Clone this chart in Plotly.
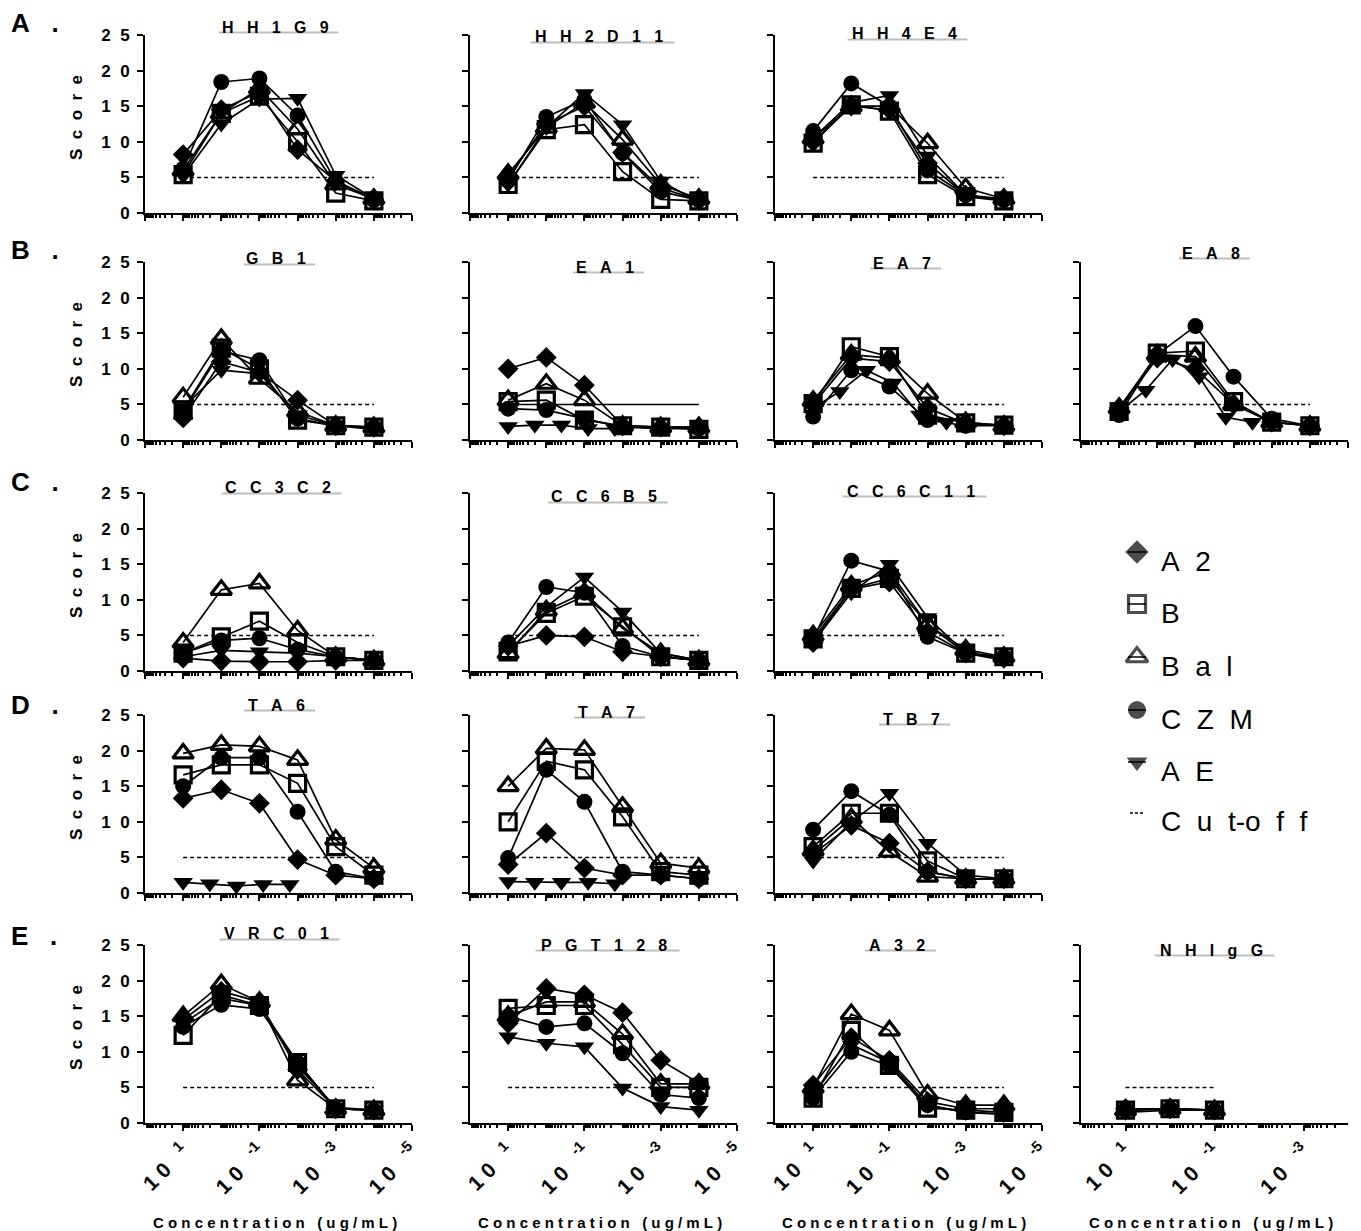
import plotly.graph_objects as go

W, H = 1361, 1231
PAGE_OFFSET = 8  # browser default body margin, compensated so pixel positions land where intended
FONT = "Arial, Liberation Sans, sans-serif"
NB = "\u00a0"

# ---------------- data ----------------
SERIES = ["A2", "B", "Bal", "CZM", "AE"]
CONC = [10, 1, 0.1, 0.01, 0.001, 0.0001]          # ug/mL, 10-fold dilutions
CONC_5FOLD = [10, 2, 0.4, 0.08, 0.016, 0.0032]    # 5-fold dilutions (AE in some panels)
CUTOFF = 5

# each panel: values for A2, B, Bal, CZM, AE
HH1G9 = [[8.2, 14.5, 17.0, 8.9, 4.5, 2.0],
         [5.4, 14.0, 16.4, 10.0, 2.8, 1.7],
         [6.0, 14.0, 17.5, 11.8, 4.0, 2.0],
         [6.2, 18.4, 18.9, 13.7, 4.5, 1.8],
         [5.2, 12.5, 16.0, 16.1, 5.3, 2.0]]
HH2D11 = [[5.0, 12.5, 15.0, 8.5, 3.5, 1.8],
          [4.0, 11.7, 12.4, 5.8, 1.9, 1.7],
          [5.5, 12.0, 15.5, 10.3, 4.0, 2.0],
          [4.5, 13.5, 15.9, 8.4, 3.0, 1.8],
          [4.0, 12.0, 16.8, 12.4, 4.5, 1.5]]
HH4E4 = [[10.0, 15.0, 14.5, 7.0, 2.5, 2.0],
         [9.8, 15.2, 14.3, 5.4, 2.3, 1.7],
         [10.5, 15.0, 15.0, 9.8, 3.5, 2.0],
         [11.5, 18.2, 15.0, 6.0, 2.5, 1.8],
         [10.5, 15.5, 16.5, 8.0, 2.5, 1.8]]
GB1 = [[3.1, 11.0, 9.5, 5.6, 2.0, 1.8],
       [4.2, 12.9, 10.0, 2.8, 2.0, 1.8],
       [6.0, 14.2, 8.6, 4.0, 2.0, 1.8],
       [4.0, 12.5, 11.2, 3.0, 2.0, 1.8],
       [4.5, 9.8, 9.3, 3.5, 2.0, 1.5]]
EA1 = [[10.0, 11.6, 7.7, 2.0, 1.8, 1.8],
       [5.4, 5.6, 2.8, 2.0, 1.8, 1.5],
       [5.6, 7.9, 5.6, 2.0, 1.8, 1.8],
       [4.4, 4.2, 3.0, 1.8, 1.6, 1.6],
       [1.9, 2.1, 2.1, 1.6, 1.6]]
EA7 = [[5.0, 11.5, 11.0, 4.5, 2.3, 2.0],
       [5.1, 13.1, 11.7, 3.5, 2.4, 2.1],
       [5.5, 12.0, 11.5, 6.5, 2.5, 2.0],
       [3.3, 9.8, 7.5, 2.8, 2.0, 2.0],
       [4.5, 6.8, 9.8, 8.0, 3.5, 2.5]]
EA8 = [[4.5, 11.5, 10.0, 5.0, 2.5, 2.0],
       [4.0, 12.2, 12.5, 5.4, 2.5, 2.0],
       [4.5, 12.0, 11.7, 5.0, 2.5, 2.0],
       [3.5, 12.0, 16.0, 8.9, 3.0, 2.0],
       [4.0, 7.0, 11.3, 8.9, 3.2, 2.5]]
CC3C2 = [[1.8, 1.4, 1.3, 1.3, 1.5, 1.5],
         [2.5, 4.8, 7.0, 4.0, 2.0, 1.5],
         [4.0, 11.4, 12.3, 5.7, 2.0, 1.5],
         [2.5, 4.3, 4.6, 3.0, 2.0, 1.5],
         [2.0, 2.9, 2.7, 2.5, 2.0, 1.5]]
CC6B5 = [[3.5, 5.0, 4.8, 2.7, 2.0, 1.5],
         [2.7, 8.1, 10.5, 6.2, 2.0, 1.5],
         [2.5, 8.5, 11.0, 6.0, 2.5, 1.5],
         [4.0, 11.8, 11.0, 3.5, 2.0, 1.5],
         [3.5, 9.0, 13.2, 8.3, 2.5, 1.5]]
CC6C11 = [[4.0, 11.5, 12.5, 5.5, 2.5, 1.8],
          [4.5, 11.6, 13.0, 6.5, 2.5, 2.0],
          [5.0, 12.0, 14.0, 6.5, 3.0, 2.0],
          [4.5, 15.5, 14.0, 4.8, 2.5, 2.0],
          [4.0, 11.0, 15.0, 7.5, 2.5, 1.5]]
TA6 = [[13.3, 14.5, 12.6, 4.7, 2.5, 2.0],
       [16.6, 18.0, 18.0, 15.4, 6.5, 2.5],
       [19.6, 20.8, 20.6, 18.7, 7.5, 3.5],
       [15.0, 19.0, 19.0, 11.4, 3.0, 2.0],
       [1.5, 1.3, 1.0, 1.2, 1.2]]
TA7 = [[4.0, 8.4, 3.5, 2.5, 2.5, 2.0],
       [10.0, 18.5, 17.3, 10.7, 3.0, 2.5],
       [15.0, 20.3, 20.1, 12.1, 4.2, 3.5],
       [4.9, 17.3, 12.8, 3.0, 2.5, 2.0],
       [1.6, 1.5, 1.5, 1.5, 1.3]]
TB7 = [[5.5, 9.5, 7.0, 3.0, 2.0, 2.0],
       [6.5, 11.2, 11.2, 4.5, 2.0, 2.0],
       [6.0, 10.5, 5.8, 2.3, 2.0, 2.0],
       [8.9, 14.3, 11.0, 3.0, 2.0, 2.0],
       [4.5, 10.0, 14.0, 7.0, 2.5, 2.0]]
VRC01 = [[14.5, 18.5, 17.0, 7.5, 2.0, 1.8],
         [12.3, 18.0, 16.5, 8.5, 2.0, 1.8],
         [15.0, 19.5, 17.0, 6.0, 2.0, 1.8],
         [13.5, 16.6, 16.0, 8.5, 2.0, 1.8],
         [14.0, 17.5, 16.5, 8.0, 2.2, 1.8]]
PGT128 = [[14.0, 18.9, 18.0, 15.5, 8.8, 5.6],
          [16.1, 16.5, 16.5, 11.0, 5.0, 5.0],
          [15.0, 17.0, 17.0, 12.5, 5.5, 5.5],
          [15.0, 13.5, 14.0, 9.8, 4.0, 3.5],
          [12.1, 11.2, 10.7, 4.9, 2.3, 1.8]]
A32 = [[5.3, 12.0, 8.8, 3.0, 2.0, 2.0],
       [3.5, 13.0, 8.1, 2.1, 1.8, 1.5],
       [5.0, 15.3, 13.0, 4.0, 2.5, 2.5],
       [3.5, 10.0, 8.0, 2.5, 1.5, 1.3],
       [4.0, 11.0, 8.5, 2.5, 1.5, 1.2]]
NHIgG = [[2.0, 2.0, 1.8],
         [1.8, 2.0, 1.8],
         [1.8, 2.0, 1.8],
         [1.8, 2.0, 1.8],
         [1.5, 1.8, 1.8]]

FIVE_FOLD_AE = {"EA1", "EA7", "EA8", "TA6", "TA7"}
SOLID_CUTOFF = {"EA1"}

Y_TICKS = [0, 5, 10, 15, 20, 25]
X_LABEL_TICKS = [1e1, 1e-1, 1e-3, 1e-5]
X_LABEL_EXP = ["1", "-1", "-3", "-5"]
ROW_LETTERS = ["A", "B", "C", "D", "E"]

# ---------------- layout geometry (pixels) ----------------
ROW_Y = [(35, 213), (262, 440), (493, 671), (715, 893), (945, 1123)]
COL_X = [(145, 412), (470, 737), (775, 1042), (1081, 1348)]
LETTER_Y = [23, 250, 482, 705, 936]

# name, data, row, col, title centre x, title centre y
PANELS = [
    ("HH1G9", HH1G9, 0, 0, 275, 27), ("HH2D11", HH2D11, 0, 1, 599, 37), ("HH4E4", HH4E4, 0, 2, 904, 34),
    ("GB1", GB1, 1, 0, 276, 259), ("EA1", EA1, 1, 1, 605, 267), ("EA7", EA7, 1, 2, 902, 263),
    ("EA8", EA8, 1, 3, 1211, 253),
    ("CC3C2", CC3C2, 2, 0, 278, 488), ("CC6B5", CC6B5, 2, 1, 604, 497), ("CC6C11", CC6C11, 2, 2, 911, 491),
    ("TA6", TA6, 3, 0, 276, 705), ("TA7", TA7, 3, 1, 606, 712), ("TB7", TB7, 3, 2, 911, 719),
    ("VRC01", VRC01, 4, 0, 276, 934), ("PGT128", PGT128, 4, 1, 604, 945), ("A32", A32, 4, 2, 897, 945),
    ("NHIgG", NHIgG, 4, 3, 1211, 950),
]

MARKERS = {
    "A2": dict(symbol="diamond", size=16, color="black", line=dict(width=0)),
    "B": dict(symbol="square-open", size=16, color="black", line=dict(width=3.2, color="black")),
    "Bal": dict(symbol="triangle-up-open", size=18, color="black", line=dict(width=3.2, color="black")),
    "CZM": dict(symbol="circle", size=16, color="black", line=dict(width=0)),
    "AE": dict(symbol="triangle-down", size=17, color="black", line=dict(width=0)),
}


def spaced(s, n=1, word=3):
    out = []
    for ch in s:
        if ch == " ":
            out.append(NB * word)
        else:
            out.append(ch)
    res = ""
    for i, ch in enumerate(out):
        res += ch
        if i < len(out) - 1 and not ch.startswith(NB) and not out[i + 1].startswith(NB):
            res += NB * n
    return res


def px(x):
    return (x - PAGE_OFFSET) / W


def py(y):
    return 1 - (y - PAGE_OFFSET) / H


fig = go.Figure()
annotations = []
shapes = []
layout = {}


def minor_vals(lo_exp, hi_exp, include_decades):
    vals = []
    for e in range(lo_exp, hi_exp):
        base = 10.0 ** e
        if include_decades:
            vals.append(base)
        for m in range(2, 10):
            vals.append(m * base)
    return vals


for k, (name, data, row, col, tcx, tcy) in enumerate(PANELS, start=1):
    x0, x1 = COL_X[col]
    ytop, ybot = ROW_Y[row]
    xref = "x" if k == 1 else f"x{k}"
    yref = "y" if k == 1 else f"y{k}"
    xkey = "xaxis" if k == 1 else f"xaxis{k}"
    ykey = "yaxis" if k == 1 else f"yaxis{k}"
    npts = len(data[0])
    low_exp = -4 if name == "NHIgG" else -5
    bottom_row = row == 4

    # cut-off line
    fig.add_trace(go.Scatter(
        x=[CONC[0], CONC[npts - 1]], y=[CUTOFF, CUTOFF], mode="lines",
        line=dict(color="black", width=1.5, dash="solid" if name in SOLID_CUTOFF else "4px,3px"),
        xaxis=xref, yaxis=yref, showlegend=False, hoverinfo="skip"))

    for s, vals in zip(SERIES, data):
        if s == "AE" and name in FIVE_FOLD_AE:
            xs = CONC_5FOLD[:len(vals)]
        else:
            xs = CONC[:len(vals)]
        fig.add_trace(go.Scatter(
            x=xs, y=vals, mode="lines+markers", name=s,
            line=dict(color="black", width=1.7),
            marker=MARKERS[s], cliponaxis=False,
            xaxis=xref, yaxis=yref, showlegend=False))

    if bottom_row:
        major = [v for v in X_LABEL_TICKS if v >= 10.0 ** low_exp]
        ticktext = ["1" + NB + "0" + NB * 3 + "<sup>" + e + "</sup>"
                    for v, e in zip(X_LABEL_TICKS, X_LABEL_EXP) if v >= 10.0 ** low_exp]
        minor = [v for v in minor_vals(low_exp, 2, True) if v not in major and v > 10.0 ** low_exp]
    else:
        major = [10.0 ** e for e in range(low_exp, 3)]
        ticktext = ["" for _ in major]
        minor = minor_vals(low_exp, 2, False)

    layout[xkey] = dict(
        type="log", range=[2, low_exp], domain=[px(x0), px(x1)], anchor=yref,
        showline=True, linecolor="black", linewidth=2, showgrid=False, zeroline=False,
        ticks="outside", ticklen=6, tickwidth=2, tickcolor="black",
        tickmode="array", tickvals=major, ticktext=ticktext,
        showticklabels=bottom_row, tickangle=-45, automargin=False,
        tickfont=dict(family=FONT, size=21, color="black", weight="bold"),
        minor=dict(tickmode="array", tickvals=minor, ticks="outside", ticklen=3,
                   tickwidth=1.5, tickcolor="black", showgrid=False),
        fixedrange=True,
    )
    layout[ykey] = dict(
        range=[0, 25], domain=[py(ybot), py(ytop)], anchor=xref,
        showline=True, linecolor="black", linewidth=2, showgrid=False, zeroline=False,
        ticks="outside", ticklen=6, tickwidth=2, tickcolor="black",
        tickmode="array", tickvals=Y_TICKS, ticktext=[spaced(str(v), 2) for v in Y_TICKS],
        showticklabels=(col == 0), ticklabelstandoff=4, automargin=False,
        tickfont=dict(family=FONT, size=17, color="black", weight="bold"),
        fixedrange=True,
    )

    # title and its grey underline
    annotations.append(dict(
        x=px(tcx), y=py(tcy), xref="paper", yref="paper", showarrow=False,
        text="<b>" + spaced(name, 3) + "</b>", xanchor="center", yanchor="middle",
        font=dict(family=FONT, size=16, color="black")))
    n = len(name)
    tw = n * 11.5 + (n - 1) * 12.8
    shapes.append(dict(type="line", xref="paper", yref="paper",
                       x0=px(tcx - tw / 2 - 2), x1=px(tcx + tw / 2 + 9),
                       y0=py(tcy + 5.5), y1=py(tcy + 5.5),
                       line=dict(color="#bdbdbd", width=2)))

    if col == 0:
        annotations.append(dict(
            x=px(76), y=py((ytop + ybot) / 2 - 6), xref="paper", yref="paper", showarrow=False,
            text="<b>" + spaced("Score", 2) + "</b>", textangle=-90,
            xanchor="center", yanchor="middle",
            font=dict(family=FONT, size=17, color="black")))
    if bottom_row:
        annotations.append(dict(
            x=px((x0 + x1) / 2 - 4), y=py(1222), xref="paper", yref="paper", showarrow=False,
            text="<b>" + spaced("Concentration (ug/mL)", 1, 3) + "</b>",
            xanchor="center", yanchor="middle",
            font=dict(family=FONT, size=15, color="black")))

for letter, ly in zip(ROW_LETTERS, LETTER_Y):
    annotations.append(dict(
        x=px(9), y=py(ly), xref="paper", yref="paper", showarrow=False,
        text="<b>" + letter + NB * 3 + ".</b>", xanchor="left", yanchor="middle",
        font=dict(family=FONT, size=26, color="black")))

# ---------------- legend (drawn on its own hidden axis, pixel units) ----------------
LEG_TEXT_Y = [561, 613, 666, 719, 771, 821]
LEG_MARKER_SIZE = {"A2": 18, "B": 17, "Bal": 19, "CZM": 18, "AE": 18}
kL = len(PANELS) + 1
layout[f"xaxis{kL}"] = dict(domain=[px(1100), px(1360)], range=[1100, 1360], visible=False,
                             anchor=f"y{kL}", fixedrange=True, automargin=False)
layout[f"yaxis{kL}"] = dict(domain=[py(860), py(520)], range=[860, 520], visible=False,
                             anchor=f"x{kL}", fixedrange=True, automargin=False)
for s, ty in zip(SERIES, LEG_TEXT_Y):
    my = ty - 9
    fig.add_trace(go.Scatter(
        x=[1128, 1137, 1146], y=[my, my, my], mode="lines+markers",
        line=dict(color="black", width=1.5),
        marker=dict(MARKERS[s], size=[0, LEG_MARKER_SIZE[s], 0]),
        xaxis=f"x{kL}", yaxis=f"y{kL}", showlegend=False, cliponaxis=False, hoverinfo="skip"))
fig.add_trace(go.Scatter(
    x=[1130, 1145], y=[LEG_TEXT_Y[5] - 8] * 2, mode="lines",
    line=dict(color="black", width=1.5, dash="3px,2px"),
    xaxis=f"x{kL}", yaxis=f"y{kL}", showlegend=False, cliponaxis=False, hoverinfo="skip"))
leg_display = ["A" + NB * 2 + "2", "B", "B" + NB * 2 + "a" + NB * 2 + "l",
               "C" + NB * 2 + "Z" + NB * 2 + "M", "A" + NB * 2 + "E",
               "C" + NB * 2 + "u" + NB * 2 + "t-o" + NB * 2 + "f" + NB * 2 + "f"]
for lab, ty in zip(leg_display, LEG_TEXT_Y):
    annotations.append(dict(
        x=px(1159), y=py(ty), xref="paper", yref="paper", showarrow=False,
        text=lab, xanchor="left", yanchor="middle",
        font=dict(family=FONT, size=28, color="black")))

fig.update_layout(
    width=W, height=H, margin=dict(l=0, r=0, t=0, b=0, pad=0, autoexpand=False),
    paper_bgcolor="white", plot_bgcolor="white", showlegend=False,
    annotations=annotations, shapes=shapes,
    font=dict(family=FONT, color="black"),
    **layout,
)

fig.write_html("out.html")
